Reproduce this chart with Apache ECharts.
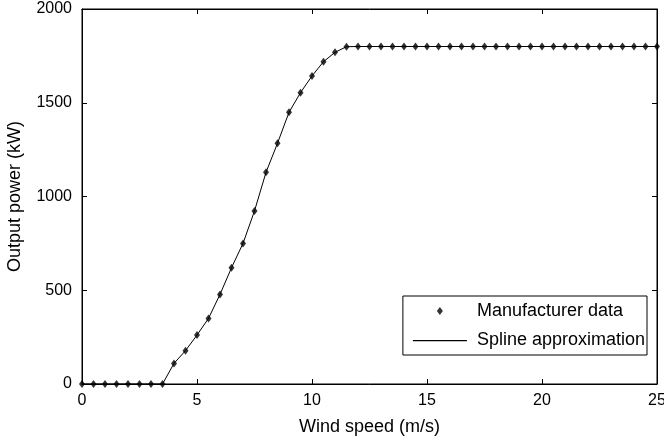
<!DOCTYPE html>
<html>
<head>
<meta charset="utf-8">
<script src="https://cdn.jsdelivr.net/npm/echarts@6/dist/echarts.min.js"></script>
<style>
  html, body { margin: 0; padding: 0; background: #fff; }
  #chart { width: 664px; height: 441px; }
</style>
</head>
<body>
<div id="chart"></div>
<script>
// wind speed (m/s), manufacturer points every 0.5 m/s
const windSpeed = [
  0, 0.5, 1, 1.5, 2, 2.5, 3, 3.5, 4, 4.5, 5, 5.5, 6, 6.5, 7, 7.5, 8, 8.5, 9, 9.5,
  10, 10.5, 11, 11.5, 12, 12.5, 13, 13.5, 14, 14.5, 15, 15.5, 16, 16.5, 17, 17.5,
  18, 18.5, 19, 19.5, 20, 20.5, 21, 21.5, 22, 22.5, 23, 23.5, 24, 24.5, 25
]
// output power (kW)
const outputPower = [
  0, 0, 0, 0, 0, 0, 0, 0, 110, 178, 261, 350, 478, 620, 750, 923, 1129, 1284, 1449, 1554,
  1643, 1719, 1769, 1799, 1800, 1800, 1800, 1800, 1800, 1800, 1800, 1800, 1800, 1800, 1800, 1800,
  1800, 1800, 1800, 1800, 1800, 1800, 1800, 1800, 1800, 1800, 1800, 1800, 1800, 1800, 1800
]
const xTicks = [0, 5, 10, 15, 20, 25]
const yTicks = [0, 500, 1000, 1500, 2000]

const points = windSpeed.map((w, i) => [w, outputPower[i]])

const font = 'Liberation Sans'
const axisCommon = {
  axisLine: { show: true, onZero: false, lineStyle: { color: '#000', width: 1 } },
  axisTick: { show: true, inside: true, length: 5, lineStyle: { color: '#000' } },
  splitLine: { show: false }
}
const plain = v => String(v)

const chart = echarts.init(document.getElementById('chart'))
chart.setOption({
  animation: false,
  grid: {
    left: 82, right: 7, top: 9, bottom: 57, outerBoundsMode: 'none',
    show: true, borderColor: '#000', borderWidth: 1
  },
  legend: {
    orient: 'vertical',
    right: 17,
    bottom: 86,
    align: 'left',
    borderColor: '#000',
    borderWidth: 1,
    borderRadius: 0,
    padding: [6, 2, 6, 10],
    itemWidth: 54,
    itemHeight: 14,
    itemGap: 11,
    textStyle: { fontFamily: font, fontSize: 18, color: '#000', lineHeight: 18, padding: [0, 0, 0, 5] },
    data: [
      { name: 'Manufacturer data', icon: 'path://M0,0 M54,14 M27,3 L30,7 L27,11 L24,7 Z' },
      { name: 'Spline approximation', icon: 'path://M0,0 M54,14 M0,7 L54,7 L54,8.2 L0,8.2 Z' }
    ]
  },
  xAxis: [
    Object.assign({}, axisCommon, {
      type: 'value',
      min: 0,
      max: 25,
      interval: 5,
      name: 'Wind speed (m/s)',
      nameLocation: 'middle',
      nameGap: 34,
      nameTextStyle: { fontFamily: font, fontSize: 18, color: '#000' },
      axisLabel: {
        margin: 9,
        fontFamily: font,
        fontSize: 16,
        color: '#000',
        formatter: plain,
        customValues: xTicks
      }
    }),
    Object.assign({}, axisCommon, {
      type: 'value',
      position: 'top',
      min: 0,
      max: 25,
      interval: 5,
      axisLabel: { show: false }
    })
  ],
  yAxis: [
    Object.assign({}, axisCommon, {
      type: 'value',
      min: 0,
      max: 2000,
      interval: 500,
      name: 'Output power (kW)',
      nameLocation: 'middle',
      nameGap: 58,
      nameTextStyle: { fontFamily: font, fontSize: 18, color: '#000' },
      axisLabel: {
        margin: 10,
        fontFamily: font,
        fontSize: 16,
        color: '#000',
        formatter: plain,
        customValues: yTicks
      }
    }),
    Object.assign({}, axisCommon, {
      type: 'value',
      position: 'right',
      min: 0,
      max: 2000,
      interval: 500,
      axisLabel: { show: false }
    })
  ],
  series: [
    {
      name: 'Manufacturer data',
      type: 'scatter',
      data: points,
      symbol: 'diamond',
      symbolSize: [6, 8],
      itemStyle: { color: '#000' },
      z: 3
    },
    {
      name: 'Spline approximation',
      type: 'line',
      data: points,
      showSymbol: false,
      symbol: 'none',
      lineStyle: { color: '#000', width: 1 },
      itemStyle: { color: '#000' },
      z: 2
    }
  ]
})
</script>
</body>
</html>
